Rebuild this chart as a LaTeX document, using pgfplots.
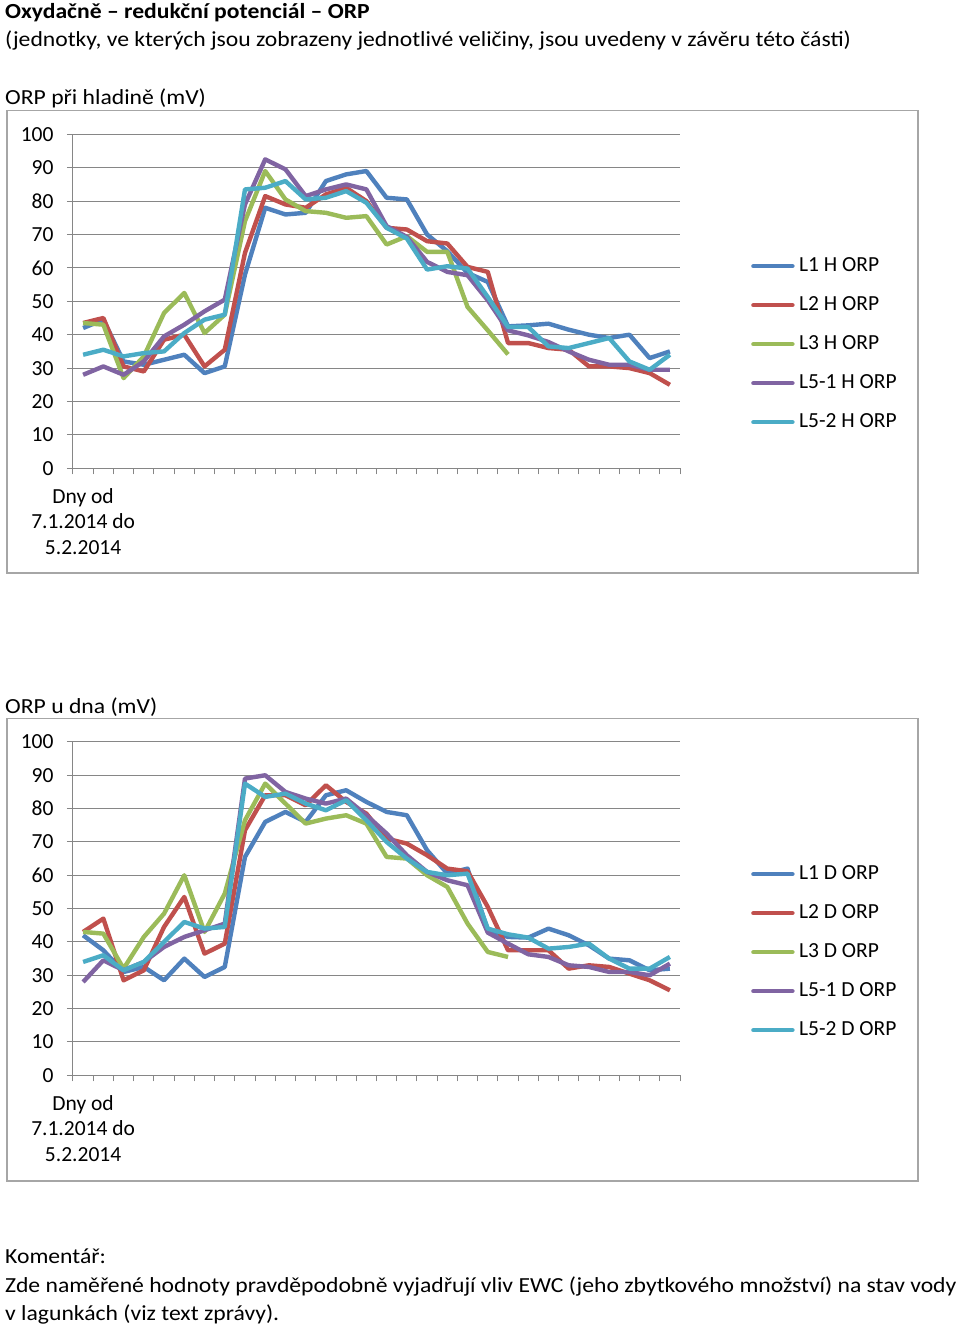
\documentclass[border=0pt]{standalone}
\usepackage{pgfplots}
\usepackage{pgfplotstable}
\pgfplotsset{compat=1.18}
\usepackage{fontspec}
\setmainfont{Carlito}
\newfontfamily\bodyfont{Carlito}[FakeStretch=1.1]
\definecolor{cA}{HTML}{4F81BD}
\definecolor{cB}{HTML}{C0504D}
\definecolor{cC}{HTML}{9BBB59}
\definecolor{cD}{HTML}{8064A2}
\definecolor{cE}{HTML}{4BACC6}
\definecolor{gridc}{HTML}{868686}
\definecolor{boxc}{HTML}{A6A6A6}
\newcommand{\fs}{\fontsize{21.5}{25.5}\selectfont}

\pgfplotstableread{
x  a    b    c    d    e
1  42   43.5 43.5 28   34
2  44.5 45   43   30.5 35.5
3  32   30.5 27   28   33.5
4  31   29   33.5 32   34.5
5  32.5 38.5 46.5 39.5 35
6  34   40   52.5 43   40.5
7  28.5 30.5 40.5 47   44.5
8  30.5 35.5 46   50.5 46
9  58   64.5 74   79   83.5
10 78   81.5 89   92.5 84
11 76   79   80.5 89.5 86
12 76.5 78   77   81.5 80.5
13 86   82   76.5 83.5 81
14 88   84   75   85   83
15 89   80   75.5 83.5 79.5
16 81   72   67   72.5 72
17 80.5 71.5 69.5 69.3 68.8
18 70   68   64.8 61.8 59.5
19 65   67.3 64.8 58.8 60.5
20 58.5 60.3 48.3 57.8 59.8
21 55.8 58.8 41.3 50.3 51.3
22 42.5 37.5 34.1 41.3 42.3
23 42.8 37.5 nan  39.8 42.3
24 43.3 36   nan  37.8 36.5
25 41.5 35.5 nan  35   36
26 40   30.5 nan  32.5 37.5
27 39   30.5 nan  31   39
28 40   30   nan  31   32
29 33   28.5 nan  29.5 29.5
30 35   25   nan  29.5 34
}\dataH

\pgfplotstableread{
x  a    b    c    d    e
1  42   43   43   28   34
2  37.5 47   42.5 34.5 36
3  31   28.5 32   31.5 31.5
4  32.5 31.5 41.5 34   34
5  28.5 44.5 48.5 38.5 40
6  35   53.5 60   41.5 46
7  29.5 36.5 43   43.5 44
8  32.5 39.5 54.5 45.5 44.5
9  65.5 73.5 76.5 89   87.5
10 76   84   87.5 90   83.5
11 79   84   81.5 85   84.5
12 76   81   75.5 83   81.5
13 84   87   77   81.5 79.5
14 85.5 82   78   83   82.5
15 82   78.5 75.5 78   76.5
16 79   71   65.5 72.5 70
17 78   69.5 65   66   65
18 67.5 66   60   61   61
19 60.5 62   56.5 58.5 60
20 62   61.2 45.5 57   60.5
21 43.5 50.5 37   42.8 44
22 41.5 37.5 35.5 39.5 42.3
23 41.3 37.5 nan  36.3 41.3
24 44   37.5 nan  35.5 38
25 42   32   nan  33   38.5
26 39   33   nan  32.5 39.5
27 35   32.5 nan  31   35
28 34.5 30.5 nan  31   32
29 31.5 28.5 nan  30   32
30 32   25.5 nan  33.5 35.5
}\dataD

\pgfplotsset{
  orpaxis/.style={
    scale only axis, width=607pt, clip=false,
    xmin=0.5, xmax=30.5, ymin=0, ymax=100,
    ytick={0,10,...,100}, xtick={0.5,1.5,...,30.5}, xticklabels={},
    ymajorgrids, grid style={gridc, line width=1pt},
    axis x line*=bottom, axis y line*=left,
    axis line style={gridc, line width=1pt},
    tick style={gridc, line width=1pt},
    major tick length=6pt, tick align=outside,
    /pgf/number format/assume math mode=true,
    yticklabel style={font=\fs, text=black, xshift=-10pt},
    every axis plot/.append style={line width=4.4pt, line join=round, no markers},
    legend image code/.code={\draw[#1, line width=4.4pt, line cap=round] (2pt,0pt) -- (41pt,0pt); \path (0pt,0pt) (45.5pt,0pt);},
    legend style={draw=none, fill=none, font=\fs, anchor=north west,
      inner sep=0pt, row sep=19pt, cells={anchor=west},
      nodes={inner sep=0pt, text height=15pt, text depth=5pt}},
    legend cell align=left,
  }
}

\begin{document}
\begin{tikzpicture}[x=1pt,y=1pt]
\path[use as bounding box] (0,0) rectangle (960,-1327);
\node[anchor=base west, inner sep=0pt, font=\fs\bodyfont\bfseries] at (5,-19) {Oxydačně – redukční potenciál – ORP};
\node[anchor=base west, inner sep=0pt, font=\fs\bodyfont] at (5,-47) {(jednotky, ve kterých jsou zobrazeny jednotlivé veličiny, jsou uvedeny v závěru této části)};
\node[anchor=base west, inner sep=0pt, font=\fs\bodyfont] at (5,-105) {ORP při hladině (mV)};
\draw[boxc, line width=1.2pt] (7,-110.5) rectangle (918,-573);

\begin{axis}[orpaxis, height=334pt, at={(73pt,-468.3pt)}, anchor=south west,
  legend style={at={(rel axis cs:1.1137,0.6356)}}]
\addplot[cA] table[x=x,y=a] {\dataH};
\addplot[cB] table[x=x,y=b] {\dataH};
\addplot[cC] table[x=x,y=c] {\dataH};
\addplot[cD] table[x=x,y=d] {\dataH};
\addplot[cE] table[x=x,y=e] {\dataH};
\legend{L1 H ORP, L2 H ORP, L3 H ORP, L5-1 H ORP, L5-2 H ORP}
\node[anchor=north, align=center, inner sep=0pt, font=\fs, yshift=-20pt] at (axis cs:1,0) {Dny od\\7.1.2014 do\\5.2.2014};
\end{axis}

\node[anchor=base west, inner sep=0pt, font=\fs\bodyfont] at (5,-713) {ORP u dna (mV)};
\draw[boxc, line width=1.2pt] (7,-718.5) rectangle (918,-1181);

\begin{axis}[orpaxis, height=333.4pt, at={(73pt,-1075.3pt)}, anchor=south west,
  legend style={at={(rel axis cs:1.1137,0.6338)}}]
\addplot[cA] table[x=x,y=a] {\dataD};
\addplot[cB] table[x=x,y=b] {\dataD};
\addplot[cC] table[x=x,y=c] {\dataD};
\addplot[cD] table[x=x,y=d] {\dataD};
\addplot[cE] table[x=x,y=e] {\dataD};
\legend{L1 D ORP, L2 D ORP, L3 D ORP, L5-1 D ORP, L5-2 D ORP}
\node[anchor=north, align=center, inner sep=0pt, font=\fs, yshift=-20pt] at (axis cs:1,0) {Dny od\\7.1.2014 do\\5.2.2014};
\end{axis}

\node[anchor=base west, inner sep=0pt, font=\fs\bodyfont] at (5,-1263) {Komentář:};
\node[anchor=base west, inner sep=0pt, font=\fs\bodyfont] at (5,-1292) {Zde naměřené hodnoty pravděpodobně vyjadřují vliv EWC (jeho zbytkového množství) na stav vody};
\node[anchor=base west, inner sep=0pt, font=\fs\bodyfont] at (5,-1320) {v lagunkách (viz text zprávy).};
\end{tikzpicture}
\end{document}
